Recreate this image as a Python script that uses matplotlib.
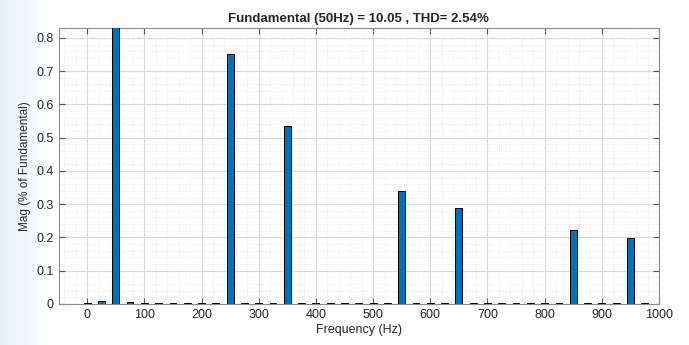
import numpy as np
import matplotlib
matplotlib.use("Agg")
import matplotlib.pyplot as plt
from matplotlib.ticker import MultipleLocator

plt.rcParams['font.family'] = ['Liberation Sans', 'DejaVu Sans']

# harmonic spectrum, one bar every 25 Hz
freqs = [0, 25, 50, 75, 100, 125, 150, 175, 200, 225, 250, 275, 300, 325, 350,
         375, 400, 425, 450, 475, 500, 525, 550, 575, 600, 625, 650, 675, 700,
         725, 750, 775, 800, 825, 850, 875, 900, 925, 950, 975]
mags = [0.002, 0.008, 100.0, 0.006, 0.003, 0.002, 0.002, 0.002, 0.002, 0.002,
        0.752, 0.002, 0.002, 0.002, 0.535, 0.002, 0.002, 0.002, 0.002, 0.002,
        0.002, 0.002, 0.341, 0.002, 0.002, 0.002, 0.289, 0.002, 0.002, 0.002,
        0.002, 0.002, 0.002, 0.002, 0.221, 0.002, 0.002, 0.002, 0.197, 0.002]
xticks = [0, 100, 200, 300, 400, 500, 600, 700, 800, 900, 1000]
yticks = [0, 0.1, 0.2, 0.3, 0.4, 0.5, 0.6, 0.7, 0.8]

fig = plt.figure(figsize=(6.89, 3.45), dpi=100)

# faint blue smear at the left edge of the screenshot
bg = fig.add_axes([0, 0, 0.06, 1], zorder=-1)
grad = np.linspace(1, 0, 50)[None, :]
bg.imshow(grad, aspect="auto", cmap="Blues", vmin=0, vmax=6, alpha=0.6)
bg.axis("off")

ax = fig.add_axes([0.085, 0.119, 0.8715, 0.80])
ax.bar(freqs, mags, width=12, color="#0072BD", edgecolor="black", linewidth=0.7, zorder=3)

ax.set_xlim(-50, 1000)
ax.set_ylim(0, 0.83)
ax.set_xticks(xticks)
ax.set_yticks(yticks)
ax.set_yticklabels(["0", "0.1", "0.2", "0.3", "0.4", "0.5", "0.6", "0.7", "0.8"])
ax.xaxis.set_minor_locator(MultipleLocator(20))
ax.yaxis.set_minor_locator(MultipleLocator(0.02))

ax.grid(which="major", color="#d9d9d9", linewidth=0.8, zorder=0)
ax.grid(which="minor", color="#e4e4e4", linewidth=0.6, linestyle=":", zorder=0)
ax.set_axisbelow(True)

ax.tick_params(which="major", direction="in", length=4, top=True, right=True,
               labelsize=9, color="#555555", labelcolor="#262626")
ax.tick_params(which="minor", length=0)
for s in ax.spines.values():
    s.set_color("#8a8a8a")
    s.set_linewidth(0.8)

ax.set_xlabel("Frequency (Hz)", fontsize=9, color="#262626", labelpad=2)
ax.set_ylabel("Mag (% of Fundamental)", fontsize=8.5, color="#262626", labelpad=4)
ax.set_title("Fundamental (50Hz) = 10.05 , THD= 2.54%", fontsize=9.5, fontweight="bold",
             color="#262626", pad=4)

fig.savefig("out.png", dpi=100, facecolor="white")
